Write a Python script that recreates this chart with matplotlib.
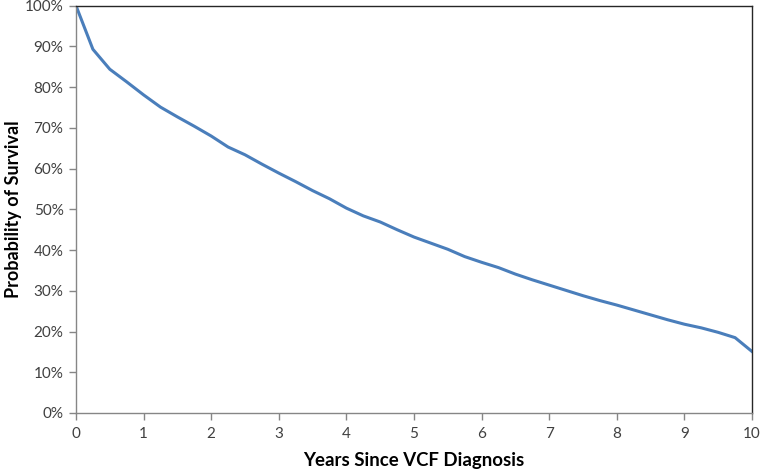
import matplotlib
matplotlib.use("Agg")
import matplotlib.pyplot as plt
from matplotlib.ticker import FuncFormatter

years = [0, 0.25, 0.5, 0.75, 1.0, 1.25, 1.5, 1.75, 2.0, 2.25, 2.5, 2.75, 3.0, 3.25, 3.5, 3.75,
         4.0, 4.25, 4.5, 4.75, 5.0, 5.25, 5.5, 5.75, 6.0, 6.25, 6.5, 6.75, 7.0, 7.25, 7.5, 7.75,
         8.0, 8.25, 8.5, 8.75, 9.0, 9.25, 9.5, 9.75, 10.0]
survival = [100, 89.3, 84.4, 81.3, 78.1, 75.1, 72.7, 70.4, 68.0, 65.3, 63.4, 61.1, 58.9, 56.8, 54.6, 52.6,
            50.3, 48.4, 46.9, 45.0, 43.2, 41.7, 40.2, 38.4, 37.0, 35.7, 34.1, 32.7, 31.4, 30.1, 28.8, 27.6,
            26.5, 25.3, 24.1, 22.9, 21.8, 20.9, 19.8, 18.5, 15.1]
x_ticks = list(range(0, 11))
y_ticks = list(range(0, 101, 10))

plt.rcParams['font.family'] = ['Lato', 'DejaVu Sans']

fig = plt.figure(figsize=(7.61, 4.71), dpi=100)
ax = fig.add_axes([76/761, 1-413/471, (752-76)/761, (413-5.7)/471])
ax.plot(years, survival, color='#4a7ebb', lw=2.2, solid_joinstyle='round')
ax.set_xlim(0, 10)
ax.set_ylim(0, 100)
ax.set_xticks(x_ticks)
ax.set_yticks(y_ticks)
ax.yaxis.set_major_formatter(FuncFormatter(lambda v, p: f"{int(v)}%"))
ax.tick_params(axis='both', direction='out', length=5, width=1, color='#868686',
               labelsize=11, labelcolor='#404040')
ax.tick_params(axis='x', pad=5)
ax.tick_params(axis='y', pad=4)
for s in ['left', 'bottom']:
    ax.spines[s].set_color('#868686')
    ax.spines[s].set_linewidth(1)
for s in ['top', 'right']:
    ax.spines[s].set_color('#262626')
    ax.spines[s].set_linewidth(1)
ax.set_xlabel('Years Since VCF Diagnosis', fontsize=13.4, fontweight='bold', labelpad=8)
ax.set_ylabel('Probability of Survival', fontsize=13, fontweight='bold', labelpad=2)
fig.savefig('out.png', dpi=100)
